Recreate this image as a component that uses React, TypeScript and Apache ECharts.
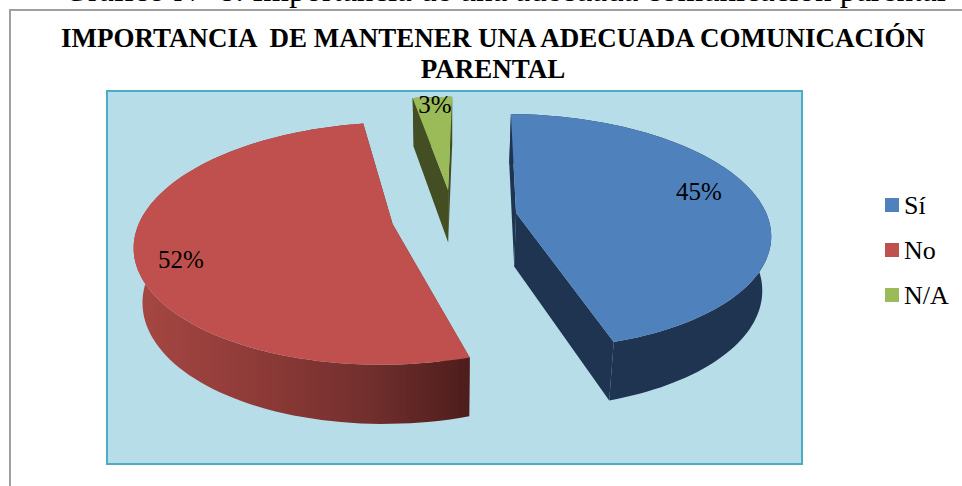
import React, { useEffect, useRef } from "react";
import * as echarts from "echarts";

const categories = ["Sí", "No", "N/A"];
const values = [45, 52, 3];
const valueLabels = ["45%", "52%", "3%"];
const chartTitle = "IMPORTANCIA  DE MANTENER UNA ADECUADA COMUNICACIÓN\nPARENTAL";
const caption = "Gráfico N° 8: Importancia de una adecuada comunicación parental";

const SERIF = '"Liberation Serif", "Times New Roman", serif';
const topColors = ["#4F81BD", "#C0504D", "#9BBB59"];
const explode = [
  { x: 0.26, y: 0.145 },
  { x: -0.23, y: 0.05 },
  { x: -0.012, y: 0.352 },
];
const labelAt = [
  { x: 699, y: 191 },
  { x: 181, y: 259 },
  { x: 435, y: 104 },
];

// Perspective model of the tilted pie
const VX = 451, Y0 = 230, RX = 256, RY = 120, P = 0.1617;
const START_DEG = 1;

const project = (gx: number, gy: number) => {
  const w = 1 / (1 + P * gy);
  return [VX + RX * gx * w, Y0 - RY * gy * w];
};
const drop = (p: number[]) => [
  VX + (p[0] - VX) * 0.972,
  p[1] + 49 + 0.038 * (p[1] - 96),
];

const wallFill = (i: number): any => {
  if (i === 1)
    return new echarts.graphic.LinearGradient(138, 0, 466, 0, [
      { offset: 0, color: "#A64743" },
      { offset: 0.35, color: "#8F3B38" },
      { offset: 0.7, color: "#722F2D" },
      { offset: 1, color: "#4E1E1C" },
    ], true);
  if (i === 0) return "#1F3450";
  return "#434E23";
};
const radialFill = ["#1F3450", "#7A302D", "#434E23"];

const renderSlice = (i: number) => () => {
  const total = values.reduce((a, b) => a + b, 0);
  const before = values.slice(0, i).reduce((a, b) => a + b, 0);
  const a0 = ((START_DEG + (before / total) * 360) * Math.PI) / 180;
  const a1 = ((START_DEG + ((before + values[i]) / total) * 360) * Math.PI) / 180;
  const e = explode[i];
  const apex = project(e.x, e.y);
  const arc: number[][] = [];
  const n = 96;
  for (let k = 0; k <= n; k++) {
    const a = a0 + ((a1 - a0) * k) / n;
    arc.push(project(e.x + Math.sin(a), e.y + Math.cos(a)));
  }
  const first = arc[0];
  const last = arc[n];
  const poly = (points: number[][], fill: any) => ({
    type: "polygon",
    shape: { points },
    style: { fill, stroke: "none" },
  });
  return {
    type: "group",
    children: [
      poly([apex, first, drop(first), drop(apex)], radialFill[i]),
      poly([apex, last, drop(last), drop(apex)], radialFill[i]),
      poly([...arc, ...arc.slice().reverse().map(drop)], wallFill(i)),
      poly([apex, ...arc], topColors[i]),
      {
        type: "text",
        x: labelAt[i].x,
        y: labelAt[i].y,
        style: {
          text: valueLabels[i],
          fill: "#000",
          font: `25px ${SERIF}`,
          align: "center",
          verticalAlign: "middle",
        },
      },
    ],
  };
};

export default function App() {
  const ref = useRef<HTMLDivElement>(null);
  useEffect(() => {
    const chart = echarts.init(ref.current!, null, { renderer: "svg" });
    chart.setOption({
      animation: false,
      backgroundColor: "#fff",
      title: {
        text: chartTitle,
        left: 488,
        top: 17,
        textAlign: "center",
        textStyle: {
          fontFamily: SERIF,
          fontSize: 27,
          fontWeight: "bold",
          color: "#000",
          lineHeight: 31,
        },
      },
      legend: {
        data: categories,
        orient: "vertical",
        left: 880,
        top: 187,
        icon: "rect",
        itemWidth: 14,
        itemHeight: 14,
        itemGap: 19,
        selectedMode: false,
        textStyle: { fontFamily: SERIF, fontSize: 26, color: "#000", lineHeight: 26, padding: [0, 0, 0, 0] },
        formatter: "{name}",
      },
      graphic: [
        {
          type: "rect",
          shape: { x: 107, y: 91, width: 695, height: 373 },
          style: { fill: "#B7DDE8", stroke: "#4BACC6", lineWidth: 2 },
        },
        {
          type: "polyline",
          shape: { points: [[10, 486], [10, 10], [962, 10]] },
          style: { stroke: "#A0A0A0", lineWidth: 2, fill: "none" },
        },
        {
          type: "text",
          x: 505,
          y: -27,
          style: {
            text: caption,
            fill: "#000",
            font: `33px ${SERIF}`,
            align: "center",
          },
        },
      ],
      series: categories.map((name, i) => ({
        type: "custom",
        name,
        coordinateSystem: "none",
        itemStyle: { color: topColors[i] },
        data: [{ name, value: values[i] }],
        renderItem: renderSlice(i),
        silent: true,
      })),
    });
    return () => chart.dispose();
  }, []);
  return (
    <div
      ref={ref}
      style={{ position: "absolute", left: 0, top: 0, width: 962, height: 486 }}
    />
  );
}
